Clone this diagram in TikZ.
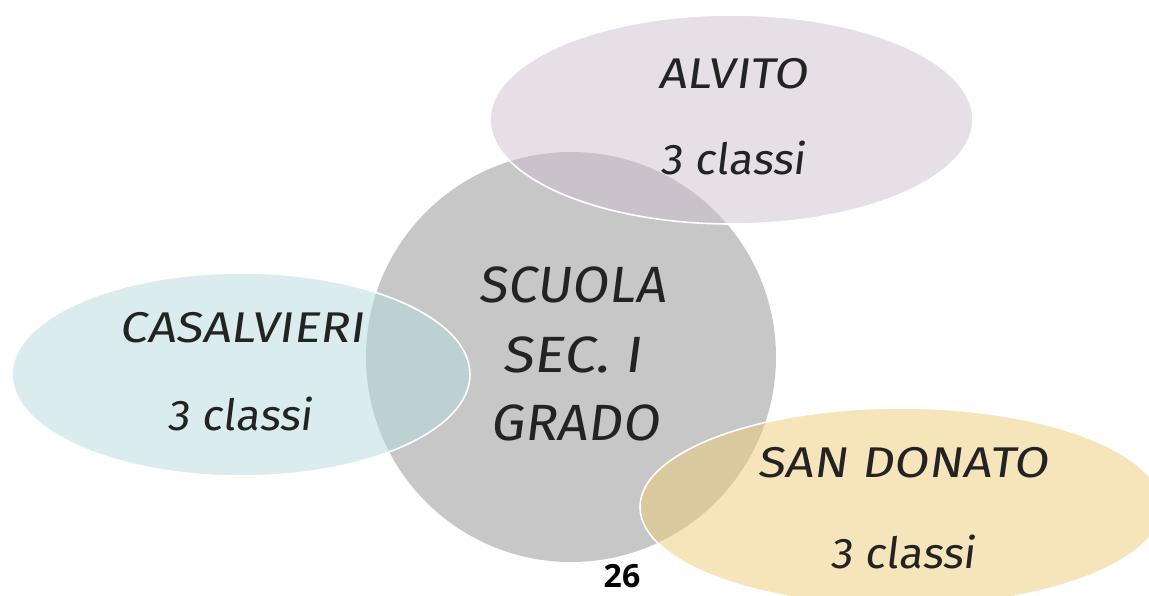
\documentclass[tikz,border=0pt]{standalone}
\usepackage{fontspec}
\setmainfont{Fira Sans}[FakeSlant=0.12]
\newfontfamily\numfont{Open Sans}
\definecolor{circgray}{RGB}{199,199,199}
\definecolor{alvfill}{RGB}{205,191,205}
\definecolor{casfill}{RGB}{181,217,221}
\definecolor{sdfill}{RGB}{237,203,119}
\definecolor{txt}{RGB}{35,35,35}
\newcommand{\hs}[2]{\scalebox{#1}[1]{#2}}
\tikzset{
  blob/.style={fill opacity=0.5, draw=white, draw opacity=1, line width=1.6pt},
  lbl/.style={anchor=base, inner sep=0pt, text=txt, font=\fontsize{43}{43}\selectfont},
  biglbl/.style={anchor=base, inner sep=0pt, text=txt, font=\fontsize{51}{51}\selectfont},
}
\begin{document}
\begin{tikzpicture}[x=1pt,y=-1pt]
\useasboundingbox (0,0) rectangle (1149,595);
\clip (0,0) rectangle (1149,595);
% central circle
\fill[circgray] (571,357) circle[radius=205pt];
% ellipses
\path[blob, fill=alvfill] (731.5,119.5) ellipse[x radius=241.5pt, y radius=104.5pt];
\path[blob, fill=casfill] (241,374.5) ellipse[x radius=229pt, y radius=101.5pt];
\path[blob, fill=sdfill] (901,507) ellipse[x radius=261pt, y radius=99pt];
% texts
\node[biglbl] (s1) at (572,302) {\hs{1.04}{SCUOLA}};
\node[biglbl] (s2) at (572,372) {\hs{1.12}{SEC. I}};
\node[biglbl] (s3) at (575,440) {\hs{1.05}{GRADO}};
\node[lbl] (a1) at (733,88) {\hs{1.15}{ALVITO}};
\node[lbl] (a2) at (733,174) {\hs{1.03}{3 classi}};
\node[lbl] (c1) at (242,342) {\hs{1.15}{CASALVIERI}};
\node[lbl] (c2) at (240,430) {\hs{1.03}{3 classi}};
\node[lbl] (d1) at (903,477) {\hs{1.17}{SAN DONATO}};
\node[lbl] (d2) at (903,568) {\hs{1.03}{3 classi}};
\node[anchor=base, inner sep=0pt, font=\numfont\bfseries\fontsize{32}{32}\selectfont] (pg) at (622,587) {26};
\end{tikzpicture}
\end{document}
